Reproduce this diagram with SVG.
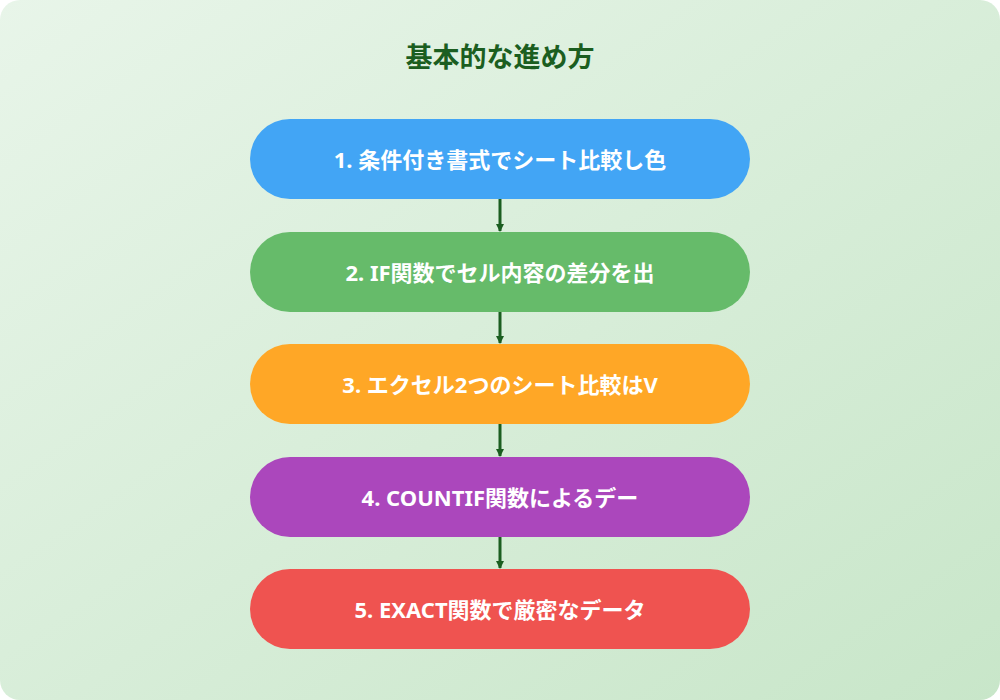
<svg xmlns="http://www.w3.org/2000/svg" width="1000" height="700" viewBox="0 0 1000 700">
<defs>
<linearGradient id="bg" x1="0" y1="0" x2="1" y2="1"><stop offset="0" stop-color="#e8f5e9"/><stop offset="1" stop-color="#c8e6c9"/></linearGradient>
<marker id="ah" markerWidth="8" markerHeight="8" refX="7" refY="4" orient="auto" markerUnits="userSpaceOnUse"><path d="M0,0 L8,4 L0,8 z" fill="#1b5e20"/></marker>
<style>
.t{font-family:"Noto Sans","Noto Sans CJK JP",sans-serif;font-weight:bold;fill:#fff;font-size:22px;text-anchor:middle;dominant-baseline:central}
.c{stroke:#1b5e20;stroke-width:3;fill:none;marker-end:url(#ah)}
</style>
</defs>
<rect x="0" y="0" width="1000" height="700" rx="20" fill="url(#bg)"/>
<text x="500" y="56" style="font-family:'Noto Sans','Noto Sans CJK JP',sans-serif;font-weight:bold;font-size:27px;fill:#1b5e20;text-anchor:middle;dominant-baseline:central">基本的な進め方</text>
<g id="connectors">
<line class="c" x1="500" y1="199" x2="500" y2="231"/>
<line class="c" x1="500" y1="312" x2="500" y2="343"/>
<line class="c" x1="500" y1="424" x2="500" y2="456"/>
<line class="c" x1="500" y1="537" x2="500" y2="568"/>
</g>
<g id="n1"><rect x="250" y="119" width="500" height="80" rx="40" fill="#42a5f5"/><text class="t" x="500" y="159">1. 条件付き書式でシート比較し色</text></g>
<g id="n2"><rect x="250" y="232" width="500" height="80" rx="40" fill="#66bb6a"/><text class="t" x="500" y="272">2. IF関数でセル内容の差分を出</text></g>
<g id="n3"><rect x="250" y="344" width="500" height="80" rx="40" fill="#ffa726"/><text class="t" x="500" y="384">3. エクセル2つのシート比較はV</text></g>
<g id="n4"><rect x="250" y="457" width="500" height="80" rx="40" fill="#ab47bc"/><text class="t" x="500" y="497">4. COUNTIF関数によるデー</text></g>
<g id="n5"><rect x="250" y="569" width="500" height="80" rx="40" fill="#ef5350"/><text class="t" x="500" y="609">5. EXACT関数で厳密なデータ</text></g>
</svg>
